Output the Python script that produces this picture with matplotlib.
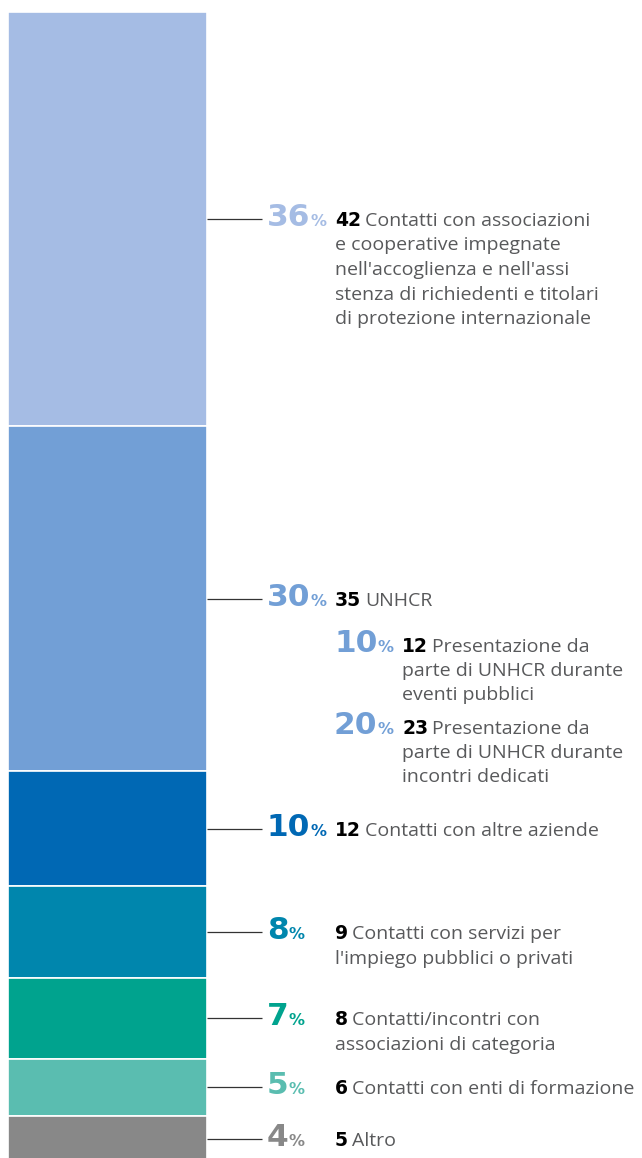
import matplotlib
matplotlib.use("Agg")
import matplotlib.pyplot as plt
from matplotlib.transforms import IdentityTransform
import numpy as np

# data
pcts = [36, 30, 10, 8, 7, 5, 4]
counts = [42, 35, 12, 9, 8, 6, 5]
descs = [
    ["Contatti con associazioni", "e cooperative impegnate",
     "nell'accoglienza e nell'assi", "stenza di richiedenti e titolari",
     "di protezione internazionale"],
    ["UNHCR"],
    ["Contatti con altre aziende"],
    ["Contatti con servizi per", "l'impiego pubblici o privati"],
    ["Contatti/incontri con", "associazioni di categoria"],
    ["Contatti con enti di formazione"],
    ["Altro"],
]
colors = ["#A5BCE4", "#729FD6", "#0068B4", "#0086AD", "#00A38E", "#5ABDB0", "#888888"]

sub_pcts = [10, 20]
sub_counts = [12, 23]
sub_descs = [
    ["Presentazione da", "parte di UNHCR durante", "eventi pubblici"],
    ["Presentazione da", "parte di UNHCR durante", "incontri dedicati"],
]

W, H = 642, 1158
fig = plt.figure(figsize=(W / 100, H / 100), dpi=100)
ax = fig.add_axes([0, 0, 1, 1])
ax.axis("off")
ax.set_xlim(0, W)
scale = 11.5  # px per percent
ax.set_ylim((H - 12) / scale, -12 / scale)

bottoms = np.concatenate([[0], np.cumsum(pcts)[:-1]])
ax.bar(107.5, pcts, bottom=bottoms, width=199, color=colors,
       edgecolor="white", linewidth=1.2)

centers = bottoms + np.array(pcts) / 2
ax.hlines(centers, 207, 262, color="#333333", linewidth=0.9)

fig.canvas.draw()
renderer = fig.canvas.get_renderer()

TXT = "#58595B"
LINE_H = 24.5


def put(x, ytop, s, family="DejaVu Sans", **kw):
    return ax.text(x, H - ytop, s, transform=IdentityTransform(),
                   ha="left", va="baseline", family=family, **kw)


def width(t):
    return t.get_window_extent(renderer).width


def label(x_num, x_cnt, base, pct, cnt, lines, color):
    t = put(x_num, base, str(pct), fontsize=22.5, fontweight="heavy", color=color)
    put(x_num + width(t), base, "%", fontsize=11.5, fontweight="bold", color=color)
    c = put(x_cnt, base, str(cnt), fontsize=13.5, fontweight="heavy", color="black")
    put(x_cnt + width(c) + 4, base, lines[0], family="Open Sans", fontsize=14, color=TXT)
    for i, ln in enumerate(lines[1:], start=1):
        put(x_cnt, base + i * LINE_H, ln, family="Open Sans", fontsize=14, color=TXT)


for i, (p, n, d, col) in enumerate(zip(pcts, counts, descs, colors)):
    cy = H - ax.transData.transform((0, centers[i]))[1]
    base = cy + 7
    label(267, 335, base, p, n, d, col)
    if i == 1:
        sub_base = base + 46
        for sp, sn, sd in zip(sub_pcts, sub_counts, sub_descs):
            label(334, 402, sub_base, sp, sn, sd, col)
            sub_base += 82

fig.savefig("out.png", dpi=100)
